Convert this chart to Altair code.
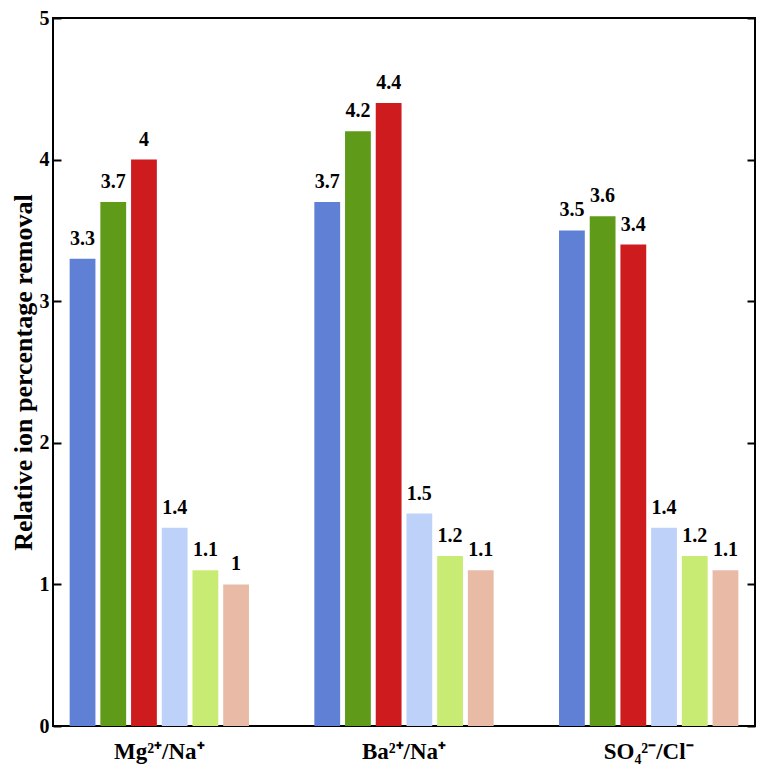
import altair as alt
import pandas as pd

groups = ["Mg²⁺/Na⁺", "Ba²⁺/Na⁺", "SO₄²⁻/Cl⁻"]
series = ["s1", "s2", "s3", "s4", "s5", "s6"]
colors = ["#5F80D5", "#5F9B19", "#CD1B1E", "#BED1F8", "#C8EC73", "#E9BBA7"]
values = {
    "Mg²⁺/Na⁺": [3.3, 3.7, 4.0, 1.4, 1.1, 1.0],
    "Ba²⁺/Na⁺": [3.7, 4.2, 4.4, 1.5, 1.2, 1.1],
    "SO₄²⁻/Cl⁻": [3.5, 3.6, 3.4, 1.4, 1.2, 1.1],
}
y_ticks = [0, 1, 2, 3, 4, 5]

rows = []
for g in groups:
    for s, v in zip(series, values[g]):
        rows.append({"group": g, "series": s, "value": v})
df = pd.DataFrame(rows)

FONT = "Liberation Serif"

x = alt.X("group:N", sort=groups,
          scale=alt.Scale(paddingInner=0.247, paddingOuter=0.058),
          axis=alt.Axis(title=None, labelAngle=0, ticks=False, domain=False,
                        labelFont=FONT, labelFontWeight="bold", labelFontSize=23,
                        labelColor="black", labelPadding=14))
xo = alt.XOffset("series:N", sort=series,
                 scale=alt.Scale(paddingInner=0.16, paddingOuter=0.08))

yscale = alt.Scale(domain=[0, 5], nice=False)

bars = alt.Chart(df).mark_bar().encode(
    x=x,
    xOffset=xo,
    y=alt.Y("value:Q", scale=yscale,
            axis=alt.Axis(title="Relative ion percentage removal", orient="left",
                          values=y_ticks, grid=False, domain=False, ticks=False,
                          labelFont=FONT, labelFontWeight="bold", labelFontSize=20,
                          labelColor="black", labelPadding=4,
                          titleFont=FONT, titleFontWeight="bold", titleFontSize=26,
                          titleColor="black", titlePadding=3)),
    color=alt.Color("series:N", sort=series,
                    scale=alt.Scale(domain=series, range=colors), legend=None),
)

labels = alt.Chart(df).mark_text(
    baseline="alphabetic", dy=-14, font=FONT, fontWeight="bold", fontSize=20,
    color="black"
).encode(
    x=x,
    xOffset=xo,
    y=alt.Y("value:Q", scale=yscale,
            axis=alt.Axis(title=None, orient="left", labels=False, domain=False,
                          grid=False, values=y_ticks, tickSize=8,
                          tickWidth=2, tickColor="black", offset=-8)),
    text=alt.Text("value:Q", format="~g"),
)

right_ticks = alt.Chart(df).mark_bar(opacity=0).encode(
    x=x,
    xOffset=xo,
    y=alt.Y("value:Q", scale=yscale,
            axis=alt.Axis(title=None, orient="right", labels=False, domain=False,
                          grid=False, values=y_ticks, tickSize=8,
                          tickWidth=2, tickColor="black", offset=-8)),
)

chart = alt.layer(bars, labels, right_ticks).resolve_axis(y="independent").properties(
    width=702, height=708, padding={"left": 2, "top": 0, "right": 2, "bottom": 2}
).configure_view(stroke="black", strokeWidth=2)

chart.save("out.html", embed_options={"renderer": "svg", "actions": False})
